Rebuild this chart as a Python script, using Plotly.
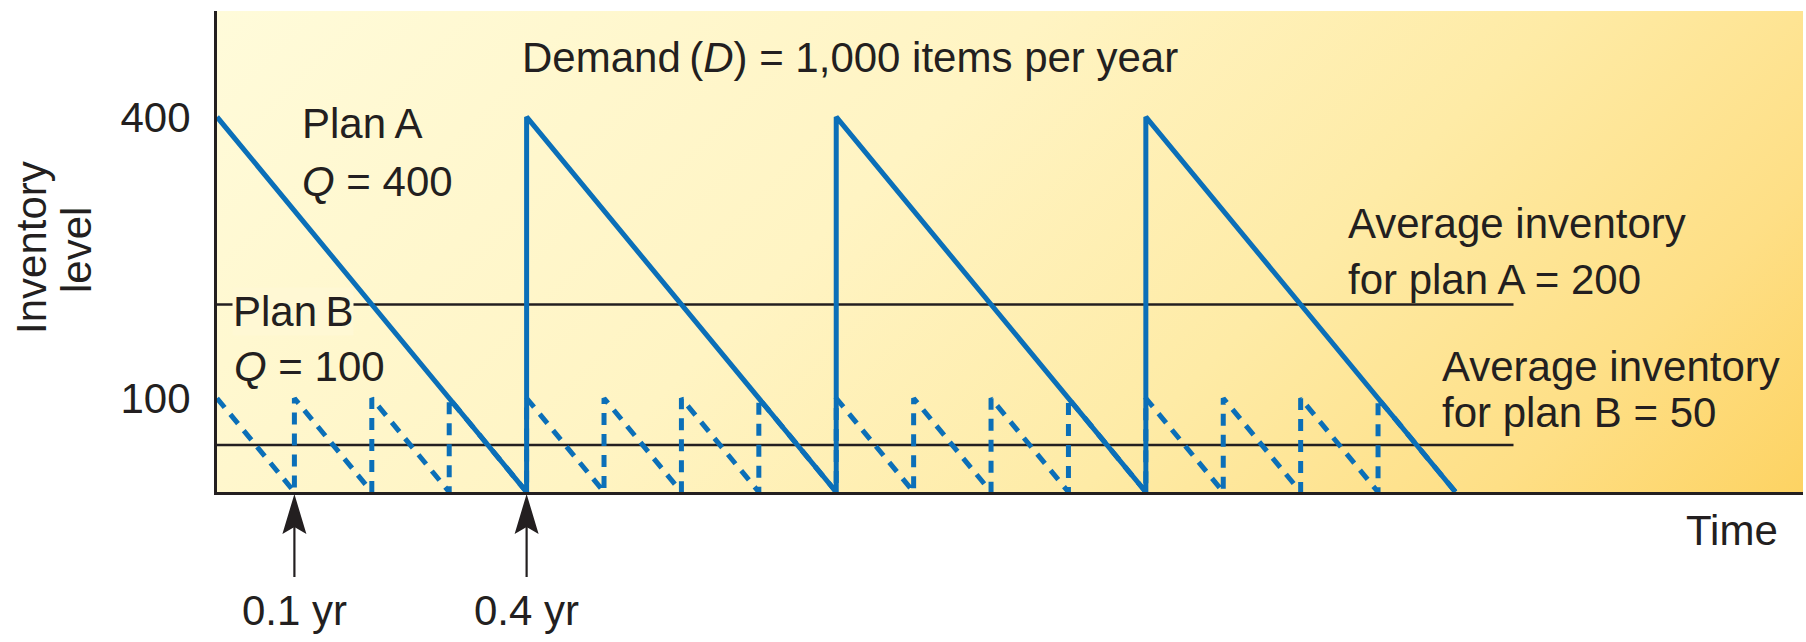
import base64
import plotly.graph_objects as go

# Inventory on hand over time (years) for the two ordering plans
plan_a_time = [0.0, 0.4, 0.4, 0.8, 0.8, 1.2, 1.2, 1.6]
plan_a_level = [400, 0, 400, 0, 400, 0, 400, 0]

plan_b_time = [0.0, 0.1, 0.1, 0.2, 0.2, 0.3, 0.3, 0.4,
               0.4, 0.5, 0.5, 0.6, 0.6, 0.7, 0.7, 0.8,
               0.8, 0.9, 0.9, 1.0, 1.0, 1.1, 1.1, 1.2,
               1.2, 1.3, 1.3, 1.4, 1.4, 1.5, 1.5, 1.6]
plan_b_level = [100, 0, 100, 0, 100, 0, 100, 0,
                100, 0, 100, 0, 100, 0, 100, 0,
                100, 0, 100, 0, 100, 0, 100, 0,
                100, 0, 100, 0, 100, 0, 100, 0]

# Average inventory reference lines
avg_time = [0.0, 1.675]
avg_level_a = [200, 200]
avg_level_b = [50, 50]

# Axis labels and order-interval markers
y_tick_values = [100, 400]
y_tick_labels = ["100", "400"]
order_times = [0.1, 0.4]
order_labels = ["0.1 yr", "0.4 yr"]

# ---- page geometry ----
FIG_W, FIG_H = 1806, 642
M_L, M_R, M_T, M_B = 217, 3, 11, 150
PW = FIG_W - M_L - M_R
PH = FIG_H - M_T - M_B
X_RANGE = [0, 2.049]
Y_RANGE = [0, 513]

INK = "#231f20"
BLUE = "#0b6fb8"
FONT = "Liberation Sans, Arial, sans-serif"
FS = 42


def paper_xy(px, py):
    """Page pixel position -> paper fraction of the plotting area."""
    return (px - M_L) / PW, (FIG_H - M_B - py) / PH


def gradient_uri(w, h):
    dx, dy = 1.0, 1.0
    s = (w * dx + h * dy) / (dx * dx + dy * dy)
    x2, y2 = s * dx, s * dy
    stops = [(0.0, "#FFFBDA"), (0.4, "#FFF4C3"), (0.65, "#FEEBA6"),
             (0.85, "#FEDF86"), (1.0, "#FDD363")]
    stop_tags = "".join(
        f'<stop offset="{o}" stop-color="{c}"/>' for o, c in stops)
    svg = (
        f'<svg xmlns="http://www.w3.org/2000/svg" width="{w}" height="{h}" '
        f'viewBox="0 0 {w} {h}" preserveAspectRatio="none">'
        f'<defs><linearGradient id="g" gradientUnits="userSpaceOnUse" '
        f'x1="0" y1="0" x2="{x2:.1f}" y2="{y2:.1f}">{stop_tags}</linearGradient></defs>'
        f'<rect width="{w}" height="{h}" fill="url(#g)"/></svg>'
    )
    return "data:image/svg+xml;base64," + base64.b64encode(svg.encode()).decode()


fig = go.Figure()

fig.add_trace(go.Scatter(
    x=avg_time, y=avg_level_a, mode="lines",
    line=dict(color=INK, width=2.5), hoverinfo="skip", showlegend=False))
fig.add_trace(go.Scatter(
    x=avg_time, y=avg_level_b, mode="lines",
    line=dict(color=INK, width=2.5), hoverinfo="skip", showlegend=False))

fig.add_trace(go.Scatter(
    x=plan_b_time, y=plan_b_level, mode="lines",
    line=dict(color=BLUE, width=5, dash="12px,9px"),
    hoverinfo="skip", showlegend=False))
fig.add_trace(go.Scatter(
    x=plan_a_time, y=plan_a_level, mode="lines",
    line=dict(color=BLUE, width=5),
    hoverinfo="skip", showlegend=False))

annotations = []


def label(text, px, py, anchor="left", bg=None, angle=0):
    x, y = paper_xy(px, py)
    a = dict(text=text, x=x, y=y, xref="paper", yref="paper",
             xanchor=anchor, yanchor="middle", showarrow=False,
             textangle=angle,
             font=dict(family=FONT, size=FS, color=INK))
    if bg:
        a.update(bgcolor=bg, borderpad=0)
    annotations.append(a)


label("Plan\u2009A", 300, 124)
label("<i>Q</i> = 400", 300, 181)
label("Plan\u2009B", 232, 311, bg="#FFF8D4")
label("<i>Q</i> = 100", 232, 366)
label("Demand\u2009(<i>D</i>) = 1,000 items per year", 520, 58)
label("Average inventory", 1346, 223)
label("for plan A = 200", 1346, 279)
label("Average inventory", 1440, 366)
label("for plan B = 50", 1440, 412)
label("Time", 1780, 530, anchor="right")

# Vertical-axis title, set as two rotated lines
label("Inventory", 31, 248, anchor="center", angle=-90)
label("level", 76, 250, anchor="center", angle=-90)

# Order-interval captions under the time axis
_, cap_y = paper_xy(0, 610)
for t, txt in zip(order_times, order_labels):
    annotations.append(dict(
        text=txt, x=t, y=cap_y, xref="x", yref="paper",
        xanchor="center", yanchor="middle", showarrow=False,
        font=dict(family=FONT, size=FS, color=INK)))

# Upward arrows pointing at the reorder instants
shapes = []
for t in order_times:
    shapes.append(dict(
        type="line", xref="x", yref="paper", xsizemode="pixel",
        ysizemode="pixel", xanchor=t, yanchor=0,
        x0=0, x1=0, y0=-34, y1=-85,
        line=dict(color=INK, width=2.2), layer="above"))
    shapes.append(dict(
        type="path", xref="x", yref="paper", xsizemode="pixel",
        ysizemode="pixel", xanchor=t, yanchor=0,
        path="M0,-2 L-12,-42 L0,-35 L12,-42 Z",
        fillcolor=INK, line=dict(width=0), layer="above"))

fig.update_layout(
    width=FIG_W, height=FIG_H,
    margin=dict(l=M_L, r=M_R, t=M_T, b=M_B, pad=0),
    paper_bgcolor="white", plot_bgcolor="rgba(0,0,0,0)",
    showlegend=False,
    images=[dict(source=gradient_uri(PW, PH), xref="paper", yref="paper",
                 x=0, y=1, sizex=1, sizey=1, xanchor="left", yanchor="top",
                 sizing="stretch", layer="below")],
    xaxis=dict(range=X_RANGE, showgrid=False, zeroline=False,
               showticklabels=False, ticks="", showline=True,
               linecolor=INK, linewidth=3, fixedrange=True),
    yaxis=dict(range=Y_RANGE, showgrid=False, zeroline=False,
               tickvals=y_tick_values, ticktext=y_tick_labels, ticks="",
               ticklabelstandoff=15,
               tickfont=dict(family=FONT, size=FS, color=INK),
               showline=True, linecolor=INK, linewidth=3, fixedrange=True),
    annotations=annotations,
    shapes=shapes,
)

fig.write_html("out.html")
